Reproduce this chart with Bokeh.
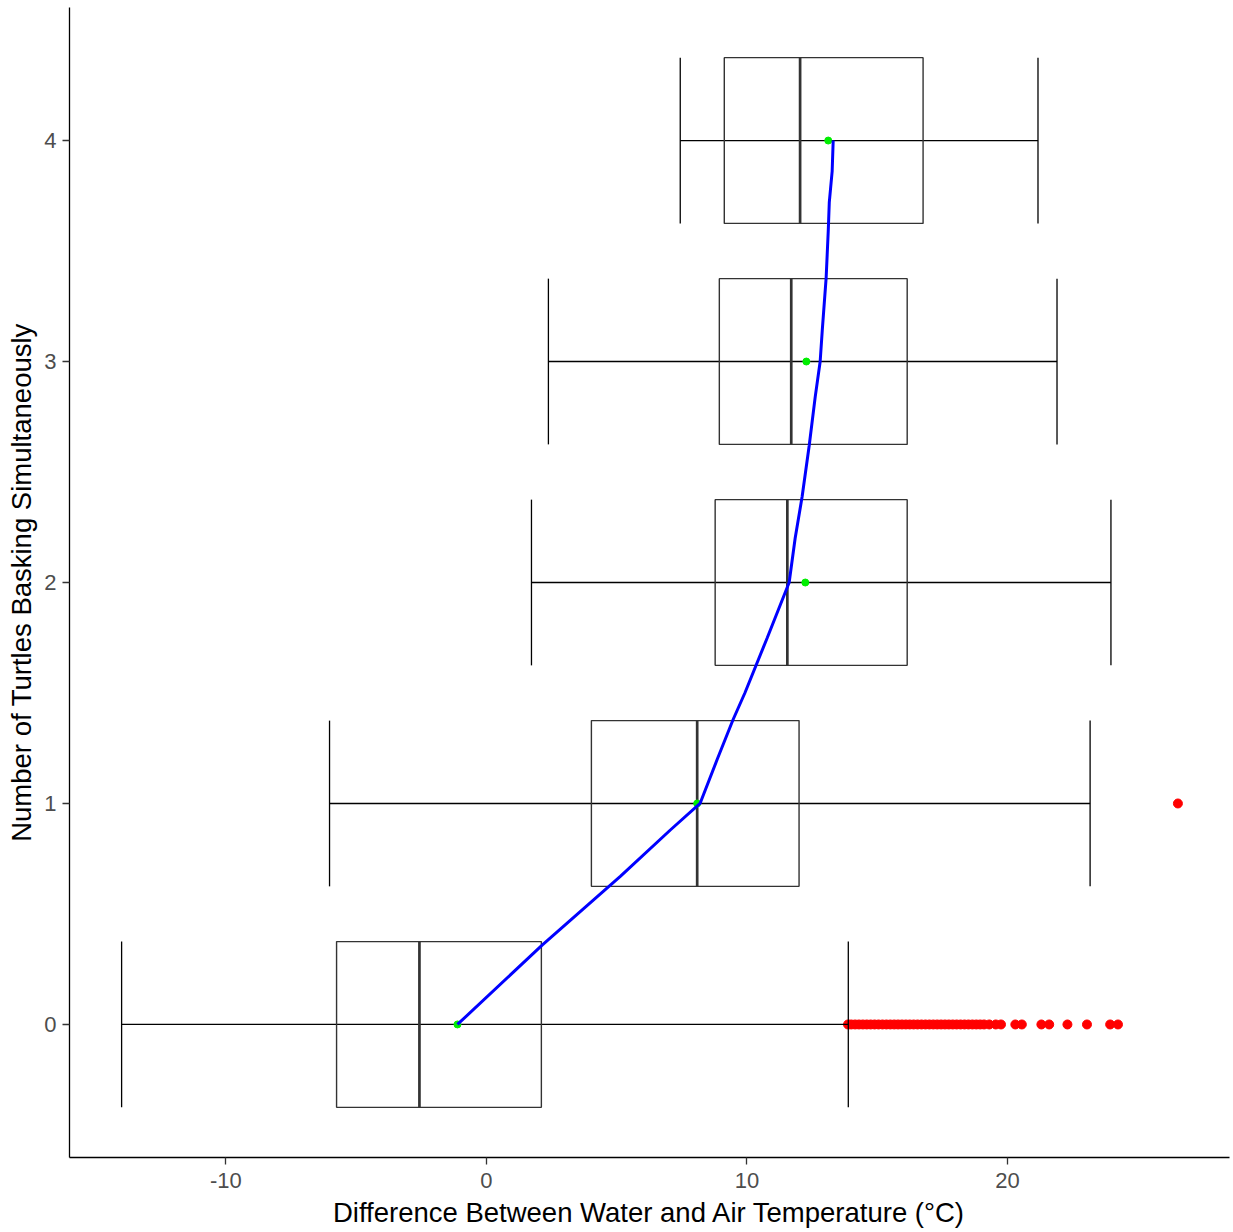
from bokeh.plotting import figure
from bokeh.models import Range1d, FixedTicker, ColumnDataSource
from bokeh.embed import file_html
from bokeh.resources import INLINE

# ---- data ----
groups = [0, 1, 2, 3, 4]
whisker_low = [-14.0, -6.02, 1.73, 2.38, 7.44]
q1 = [-5.75, 4.03, 8.78, 8.94, 9.13]
median = [-2.57, 8.09, 11.55, 11.70, 12.04]
q3 = [2.11, 12.0, 16.15, 16.15, 16.76]
whisker_high = [13.89, 23.17, 23.97, 21.9, 21.17]
means = [-1.11, 8.09, 12.24, 12.28, 13.12]

outlier_x = [13.88, 14.0, 14.15, 14.3, 14.45, 14.6, 14.75, 14.9, 15.05, 15.2,
             15.35, 15.5, 15.65, 15.8, 15.95, 16.1, 16.25, 16.4, 16.55, 16.7,
             16.85, 17.0, 17.15, 17.3, 17.45, 17.6, 17.75, 17.9, 18.05, 18.2,
             18.35, 18.5, 18.65, 18.8, 18.95, 19.1, 19.3,
             19.55, 19.75, 20.3, 20.55, 21.3, 21.6, 22.3, 23.05, 23.94, 24.24,
             26.54]
outlier_y = [0] * 47 + [1]

trend_y = [0, 0.36, 0.67, 0.88, 1.0, 1.2, 1.38, 1.5, 1.75, 2.0, 2.2, 2.39,
           2.62, 2.84, 3.0, 3.14, 3.38, 3.59, 3.72, 3.86, 4.0]
trend_x = [-1.11, 2.15, 5.14, 7.06, 8.2, 8.86, 9.47, 9.92, 10.78, 11.62, 11.85,
           12.12, 12.39, 12.62, 12.81, 12.89, 13.04, 13.12, 13.16, 13.27, 13.31]

x_ticks = [-10, 0, 10, 20]
x_tick_labels = ["-10", "0", "10", "20"]
y_ticks = [0, 1, 2, 3, 4]
x_title = "Difference Between Water and Air Temperature (°C)"
y_title = "Number of Turtles Basking Simultaneously"

half = 0.375
src = ColumnDataSource(dict(
    y=groups,
    lo=whisker_low, q1=q1, med=median, q3=q3, hi=whisker_high,
    bot=[g - half for g in groups], top=[g + half for g in groups],
))

p = figure(width=1233, height=1232, output_backend="svg", toolbar_location=None,
           x_range=Range1d(-16.0, 28.52), y_range=Range1d(-0.602, 4.602),
           min_border_left=69, min_border_right=4, min_border_top=7,
           min_border_bottom=75)
p.outline_line_color = None
p.xgrid.visible = False
p.ygrid.visible = False
p.background_fill_color = "white"
p.border_fill_color = "white"

# outliers
p.scatter(outlier_x, outlier_y, size=9, color="red", line_color="red")

# whisker lines and caps
p.segment(x0="lo", y0="y", x1="hi", y1="y", source=src, line_color="black", line_width=1.3)
p.segment(x0="lo", y0="bot", x1="lo", y1="top", source=src, line_color="black", line_width=1.3)
p.segment(x0="hi", y0="bot", x1="hi", y1="top", source=src, line_color="black", line_width=1.3)

# boxes
p.quad(left="q1", right="q3", bottom="bot", top="top", source=src,
       fill_color=None, line_color="#333333", line_width=1.4)
p.segment(x0="med", y0="bot", x1="med", y1="top", source=src,
          line_color="#333333", line_width=2.7)

# means
p.scatter(means, groups, size=7, color="#00ee00", line_color="#00ee00")

# trend line
p.line(trend_x, trend_y, line_color="#0000ff", line_width=3)

# axes
for ax in (p.xaxis[0], p.yaxis[0]):
    ax.axis_line_color = "black"
    ax.axis_line_width = 1.3
    ax.major_tick_line_color = "#333333"
    ax.major_tick_line_width = 1.3
    ax.major_tick_in = 0
    ax.major_tick_out = 7
    ax.minor_tick_line_color = None
    ax.major_label_text_font = "Liberation Sans"
    ax.major_label_text_font_size = "22px"
    ax.major_label_text_color = "#4d4d4d"
    ax.axis_label_text_font = "Liberation Sans"
    ax.axis_label_text_font_size = "27.5px"
    ax.axis_label_text_font_style = "normal"
    ax.axis_label_text_color = "black"

p.xaxis.ticker = FixedTicker(ticks=x_ticks)
p.xaxis.major_label_overrides = {t: s for t, s in zip(x_ticks, x_tick_labels)}
p.yaxis.ticker = FixedTicker(ticks=y_ticks)
p.xaxis.axis_label = x_title
p.yaxis.axis_label = y_title
p.xaxis.major_label_standoff = 8
p.yaxis.major_label_standoff = 6
p.xaxis.axis_label_standoff = 6
p.yaxis.axis_label_standoff = 4
p.yaxis.major_label_orientation = "horizontal"

open("out.html", "w").write(file_html(p, INLINE))
